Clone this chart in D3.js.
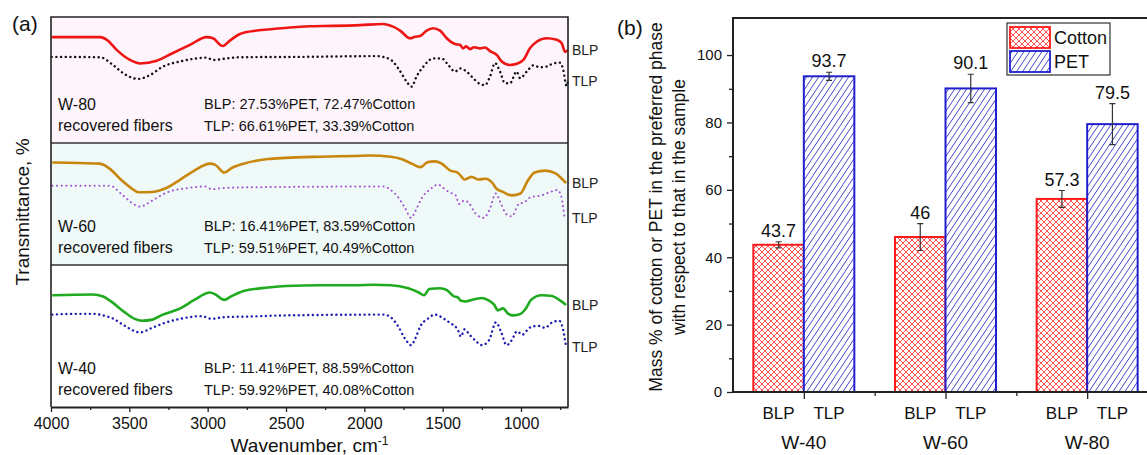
<!DOCTYPE html>
<html>
<head>
<meta charset="utf-8">
<script src="https://cdn.jsdelivr.net/npm/d3@7"></script>
<style>
body { margin: 0; background: #fff; }
svg { display: block; font-family: "Liberation Sans", Arial, sans-serif; }
</style>
</head>
<body>
<script>
// (a) FTIR spectra: [wavenumber cm-1, offset transmittance %]
var w80BLP = [[3996,94.8],[3687,94.8],[3640,94.0],[3581,91.5],[3496,88.9],[3432,88.0],[3325,88.7],[3221,90.7],[3113,92.8],[3006,94.8],[2966,94.5],[2904,92.5],[2858,93.9],[2794,95.6],[2687,96.5],[2583,96.9],[2475,97.3],[2347,97.6],[2200,97.7],[2028,97.9],[1881,98.2],[1817,97.5],[1772,96.5],[1708,94.5],[1676,94.9],[1644,95.1],[1602,96.5],[1562,97.1],[1517,96.5],[1474,94.5],[1421,93.0],[1389,92.8],[1370,91.9],[1350,92.4],[1325,91.7],[1300,92.2],[1262,91.9],[1230,92.1],[1198,91.2],[1155,90.2],[1123,88.5],[1070,87.6],[1028,87.9],[985,88.9],[943,91.9],[900,93.6],[836,94.5],[772,94.1],[740,93.2],[719,91.0],[700,91.4]];
var w80TLP = [[3996,89.7],[3687,89.6],[3604,87.6],[3540,85.5],[3445,84.0],[3368,85.0],[3285,87.2],[3177,88.5],[3070,89.3],[3006,89.5],[2966,88.9],[2879,89.3],[2794,89.6],[2400,89.7],[1926,89.9],[1837,89.1],[1783,86.7],[1730,83.3],[1698,82.0],[1666,84.7],[1623,87.2],[1560,89.3],[1506,89.3],[1474,88.1],[1421,85.9],[1389,86.7],[1347,85.9],[1315,84.6],[1262,82.7],[1230,82.4],[1198,84.6],[1166,88.1],[1134,85.9],[1102,82.9],[1070,82.9],[1028,85.9],[1006,84.2],[963,85.9],[921,87.5],[879,87.0],[836,87.2],[794,88.0],[751,88.2],[730,86.3],[709,82.2],[700,83.5]];
var w60BLP = [[3992,62.4],[3690,62.1],[3622,60.7],[3555,58.0],[3488,55.8],[3443,54.7],[3353,54.8],[3264,55.8],[3175,58.0],[3085,60.3],[2985,62.1],[2951,61.8],[2894,59.8],[2850,60.9],[2771,62.1],[2615,63.3],[2503,63.6],[2279,63.9],[2055,64.1],[1966,64.2],[1831,63.9],[1764,63.3],[1697,62.1],[1641,61.2],[1596,62.5],[1551,62.7],[1506,62.1],[1451,60.3],[1405,59.8],[1383,58.9],[1361,58.0],[1316,58.7],[1271,58.0],[1227,58.2],[1182,57.1],[1160,55.8],[1115,54.8],[1059,53.9],[1003,54.4],[958,57.6],[913,59.8],[846,60.3],[779,59.6],[734,58.0],[712,57.1]];
var w60TLP = [[3992,56.4],[3622,56.4],[3555,54.4],[3488,52.1],[3432,51.0],[3353,52.6],[3264,54.6],[3130,55.8],[3018,56.2],[2973,55.5],[2906,55.8],[2727,56.0],[1876,56.2],[1831,55.3],[1786,53.5],[1742,50.8],[1701,48.1],[1674,49.9],[1629,53.5],[1585,55.3],[1529,56.7],[1495,55.8],[1462,54.8],[1417,53.9],[1395,51.7],[1361,52.6],[1328,51.7],[1294,49.4],[1238,48.1],[1204,49.9],[1160,54.4],[1137,52.6],[1092,49.0],[1059,48.5],[1014,51.7],[980,52.1],[936,53.5],[869,53.9],[823,54.6],[768,55.3],[745,53.9],[722,48.1]];
var w40BLP = [[3992,28.1],[3734,28.3],[3667,27.8],[3600,26.0],[3533,23.8],[3466,22.0],[3421,21.5],[3353,21.8],[3286,23.1],[3175,24.7],[3085,26.9],[2985,28.8],[2951,28.3],[2894,26.9],[2850,27.8],[2771,29.2],[2615,30.1],[2503,30.5],[2279,30.7],[2055,30.7],[1943,30.8],[1831,30.7],[1719,29.9],[1652,28.8],[1619,28.1],[1585,29.7],[1518,29.9],[1473,29.4],[1428,27.8],[1405,27.6],[1383,26.7],[1350,26.5],[1316,26.9],[1283,27.2],[1249,27.4],[1204,26.7],[1170,25.6],[1148,24.2],[1115,24.7],[1081,23.3],[1047,22.9],[1003,23.3],[969,24.7],[936,26.9],[869,28.1],[801,27.9],[756,26.9],[712,25.6]];
var w40TLP = [[3992,23.1],[3846,23.3],[3734,23.3],[3667,22.9],[3600,22.0],[3533,20.3],[3432,18.5],[3353,19.7],[3264,21.1],[3175,22.0],[3040,22.7],[2973,22.0],[2906,22.4],[2727,22.6],[2503,22.9],[1876,23.1],[1831,22.4],[1786,20.2],[1742,17.0],[1701,15.2],[1674,17.0],[1641,20.2],[1596,22.0],[1551,23.1],[1506,22.4],[1473,21.5],[1439,20.6],[1405,19.3],[1383,17.4],[1361,19.3],[1328,17.9],[1294,16.5],[1249,15.2],[1204,16.5],[1160,21.1],[1126,18.5],[1092,15.2],[1059,16.5],[1025,18.8],[992,17.9],[946,19.7],[891,20.2],[846,19.7],[801,21.1],[756,21.5],[734,19.7],[712,14.7]];
var xTicksA = [4000, 3500, 3000, 2500, 2000, 1500, 1000];
var xMinorA = [3750, 3250, 2750, 2250, 1750, 1250, 750];
var blpText = ["BLP: 11.41%PET, 88.59%Cotton", "BLP: 16.41%PET, 83.59%Cotton", "BLP: 27.53%PET, 72.47%Cotton"];
var tlpText = ["TLP: 59.92%PET, 40.08%Cotton", "TLP: 59.51%PET, 40.49%Cotton", "TLP: 66.61%PET, 33.39%Cotton"];

// (b) mass % in the preferred phase
var samples = ["W-40", "W-60", "W-80"];
var phases = ["BLP", "TLP"];
var cotton = [43.7, 46, 57.3];
var cottonErr = [0.9, 4.0, 2.5];
var pet = [93.7, 90.1, 79.5];
var petErr = [1.2, 4.2, 6.1];
var yTicksB = [0, 20, 40, 60, 80, 100];
var yMinorB = [10, 30, 50, 70, 90];

var width = 1147, height = 455;
var svg = d3.select("body").append("svg")
    .attr("width", width)
    .attr("height", height);

var defs = svg.append("defs");
var cross = defs.append("pattern").attr("id", "cross")
    .attr("patternUnits", "userSpaceOnUse").attr("width", 6).attr("height", 6);
cross.append("rect").attr("width", 6).attr("height", 6).attr("fill", "#fff");
cross.append("path").attr("d", "M0,0L6,6M6,0L0,6")
    .attr("stroke", "#ff4040").attr("stroke-width", 0.9);
var diag = defs.append("pattern").attr("id", "diag")
    .attr("patternUnits", "userSpaceOnUse").attr("width", 6).attr("height", 9);
diag.append("rect").attr("width", 6).attr("height", 9).attr("fill", "#fff");
diag.append("path").attr("d", "M0,9L6,0M-1,1.5L1,-1.5M5,10.5L7,7.5")
    .attr("stroke", "#3030c8").attr("stroke-width", 0.9);

// ---------- panel (a) ----------
var aLeft = 51, aRight = 568, aTop = 17, aBottom = 407;
var ax = d3.scaleLinear().domain([4000, 700]).range([aLeft, aRight]);
var ay = d3.scaleLinear().domain([0, 100]).range([404, 17]);
var line = d3.line()
    .x(function(d) { return ax(d[0]); })
    .y(function(d) { return ay(d[1]); })
    .curve(d3.curveMonotoneX);

var rows = [
    { name: "W-80", top: aTop, bottom: 143, bg: "#fdf5fb", i: 2, blp: w80BLP, tlp: w80TLP, c1: "#ee1515", c2: "#111", d: 2.4 },
    { name: "W-60", top: 143, bottom: 265, bg: "#eff9f8", i: 1, blp: w60BLP, tlp: w60TLP, c1: "#c8860c", c2: "#a050d0", d: 2.0 },
    { name: "W-40", top: 265, bottom: aBottom, bg: "#fff", i: 0, blp: w40BLP, tlp: w40TLP, c1: "#20aa20", c2: "#2020b0", d: 2.4 }
];

var ga = svg.append("g");
rows.forEach(function(r) {
    ga.append("rect").attr("x", aLeft).attr("y", r.top)
        .attr("width", aRight - aLeft).attr("height", r.bottom - r.top)
        .attr("fill", r.bg);
    ga.append("path").datum(r.blp).attr("d", line)
        .attr("fill", "none").attr("stroke", r.c1).attr("stroke-width", 2.6);
    ga.append("path").datum(r.tlp).attr("d", line)
        .attr("fill", "none").attr("stroke", r.c2).attr("stroke-width", r.d)
        .attr("stroke-linecap", "round").attr("stroke-dasharray", "0.1,4.6");
    [[r.blp, "BLP"], [r.tlp, "TLP"]].forEach(function(p) {
        ga.append("text").attr("x", aRight + 4)
            .attr("y", ay(p[0][p[0].length - 1][1])).attr("dy", "0.35em")
            .attr("font-size", 14).attr("fill", "#222").text(p[1]);
    });
    ga.append("text").attr("x", 58).attr("y", r.bottom - 33)
        .attr("font-size", 16).attr("fill", "#111").text(r.name);
    ga.append("text").attr("x", 58).attr("y", r.bottom - 12)
        .attr("font-size", 16).attr("fill", "#111").text("recovered fibers");
    ga.append("text").attr("x", 204).attr("y", r.bottom - 34)
        .attr("font-size", 14.5).attr("fill", "#111").text(blpText[r.i]);
    ga.append("text").attr("x", 204).attr("y", r.bottom - 12)
        .attr("font-size", 14.5).attr("fill", "#111").text(tlpText[r.i]);
});
[143, 265].forEach(function(y) {
    ga.append("line").attr("x1", aLeft).attr("x2", aRight).attr("y1", y).attr("y2", y)
        .attr("stroke", "#333").attr("stroke-width", 1.5);
});
ga.append("path")
    .attr("d", "M" + aLeft + "," + aBottom + "V" + aTop + "H" + aRight + "V" + aBottom)
    .attr("fill", "none").attr("stroke", "#222").attr("stroke-width", 1.6);

var axA = ga.append("g").attr("transform", "translate(0," + aBottom + ")")
    .call(d3.axisBottom(ax).tickValues(xTicksA).tickSize(5).tickSizeOuter(0)
        .tickPadding(6).tickFormat(d3.format("d")));
ga.append("g").attr("transform", "translate(0," + aBottom + ")")
    .call(d3.axisBottom(ax).tickValues(xMinorA).tickSize(3).tickSizeOuter(0).tickFormat(""))
    .select(".domain").remove();
axA.selectAll("text").attr("font-size", 16).attr("fill", "#111");
ga.selectAll(".domain").attr("stroke", "#222").attr("stroke-width", 2);
ga.selectAll(".tick line").attr("stroke", "#222").attr("stroke-width", 1.3);

var xl = ga.append("text").attr("x", (aLeft + aRight) / 2).attr("y", 452)
    .attr("text-anchor", "middle").attr("font-size", 19).attr("fill", "#111");
xl.append("tspan").text("Wavenumber, cm");
xl.append("tspan").attr("dy", -7).attr("font-size", 12).text("-1");

ga.append("text").attr("transform", "translate(29,212)rotate(-90)")
    .attr("text-anchor", "middle").attr("font-size", 19).attr("fill", "#111")
    .text("Transmittance, %");
ga.append("text").attr("x", 12).attr("y", 31).attr("font-size", 21).attr("fill", "#111").text("(a)");

// ---------- panel (b) ----------
var bLeft = 733;
var bx = d3.scaleBand().domain(samples).range([bLeft, 1158]);
var barW = 50.5;
var bx1 = d3.scaleBand().domain(phases).range([-barW, barW]);
var by = d3.scaleLinear().domain([0, 111]).range([392, 18]);

var bars = [];
samples.forEach(function(s, i) {
    bars.push({ s: s, p: "BLP", v: cotton[i], e: cottonErr[i], fill: "url(#cross)", stroke: "#ff1a1a" });
    bars.push({ s: s, p: "TLP", v: pet[i], e: petErr[i], fill: "url(#diag)", stroke: "#1f1fcc" });
});

var gb = svg.append("g");
var cx = function(d) { return bx(d.s) + bx.bandwidth() / 2 + bx1(d.p); };
gb.selectAll("rect.bar").data(bars).enter().append("rect")
    .attr("class", "bar")
    .attr("x", cx)
    .attr("y", function(d) { return by(d.v); })
    .attr("width", bx1.bandwidth())
    .attr("height", function(d) { return by(0) - by(d.v); })
    .attr("fill", function(d) { return d.fill; })
    .attr("stroke", function(d) { return d.stroke; })
    .attr("stroke-width", 2);

var eb = gb.selectAll("g.err").data(bars).enter().append("g")
    .attr("transform", function(d) { return "translate(" + (cx(d) + barW / 2) + ",0)"; });
eb.append("path")
    .attr("d", function(d) {
        var t = by(d.v + d.e), b = by(d.v - d.e);
        return "M-3," + t + "H3M0," + t + "V" + b + "M-3," + b + "H3";
    })
    .attr("fill", "none").attr("stroke", "#333").attr("stroke-width", 1.2);
eb.append("text")
    .attr("y", function(d) { return by(d.v + d.e) - 5; })
    .attr("text-anchor", "middle").attr("font-size", 18).attr("fill", "#111")
    .text(function(d) { return d.v; });

var ayB = gb.append("g").attr("transform", "translate(" + bLeft + ",0)")
    .call(d3.axisLeft(by).tickValues(yTicksB).tickSize(6).tickSizeOuter(0).tickPadding(5));
ayB.select(".domain").attr("d", "M0," + by(0) + "V" + by(111));
gb.append("g").attr("transform", "translate(" + bLeft + ",0)")
    .call(d3.axisLeft(by).tickValues(yMinorB).tickSize(4).tickSizeOuter(0).tickFormat(""))
    .select(".domain").remove();
ayB.selectAll("text").attr("font-size", 15).attr("fill", "#111");

var centers = samples.map(function(s) { return bx(s) + bx.bandwidth() / 2; });
var bounds = samples.slice(1).map(function(s) { return bx(s); });
gb.append("g").attr("transform", "translate(0," + by(0) + ")")
    .call(d3.axisBottom(d3.scaleIdentity()).tickValues(centers).tickSize(7).tickSizeOuter(0).tickFormat(""))
    .select(".domain").attr("d", "M" + bLeft + ",0H" + width);
gb.append("g").attr("transform", "translate(0," + by(0) + ")")
    .call(d3.axisBottom(d3.scaleIdentity()).tickValues(bounds).tickSize(4).tickSizeOuter(0).tickFormat(""))
    .select(".domain").remove();
gb.selectAll(".domain").attr("stroke", "#222").attr("stroke-width", 2);
gb.selectAll(".tick line").attr("stroke", "#222").attr("stroke-width", 1.3);
gb.append("line").attr("x1", bLeft - 1).attr("x2", width).attr("y1", by(111)).attr("y2", by(111))
    .attr("stroke", "#222").attr("stroke-width", 2);

gb.selectAll("text.ph").data(bars).enter().append("text")
    .attr("x", function(d) { return cx(d) + barW / 2; })
    .attr("y", 419).attr("text-anchor", "middle")
    .attr("font-size", 17).attr("fill", "#111")
    .text(function(d) { return d.p; });
gb.selectAll("text.sm").data(samples).enter().append("text")
    .attr("x", function(s) { return bx(s) + bx.bandwidth() / 2; })
    .attr("y", 449).attr("text-anchor", "middle")
    .attr("font-size", 19).attr("fill", "#111")
    .text(function(s) { return s; });

var yl = gb.append("text").attr("transform", "translate(662,207)rotate(-90)")
    .attr("text-anchor", "middle").attr("font-size", 17.5).attr("fill", "#111");
yl.append("tspan").attr("x", 0).text("Mass % of cotton or PET in the preferred phase");
yl.append("tspan").attr("x", 0).attr("dy", 23).text("with respect to that in the sample");
gb.append("text").attr("x", 617).attr("y", 35).attr("font-size", 21).attr("fill", "#111").text("(b)");

// legend
var lg = gb.append("g").attr("transform", "translate(1007,23)");
lg.append("rect").attr("width", 103).attr("height", 52)
    .attr("fill", "#fff").attr("stroke", "#333").attr("stroke-width", 1.2);
[["Cotton", "url(#cross)", "#ff1a1a"], ["PET", "url(#diag)", "#1f1fcc"]].forEach(function(l, i) {
    lg.append("rect").attr("x", 3).attr("y", 4 + i * 24).attr("width", 40).attr("height", 21)
        .attr("fill", l[1]).attr("stroke", l[2]).attr("stroke-width", 1.8);
    lg.append("text").attr("x", 47).attr("y", 15 + i * 24).attr("dy", "0.35em")
        .attr("font-size", 18).attr("fill", "#111").text(l[0]);
});
</script>
</body>
</html>
